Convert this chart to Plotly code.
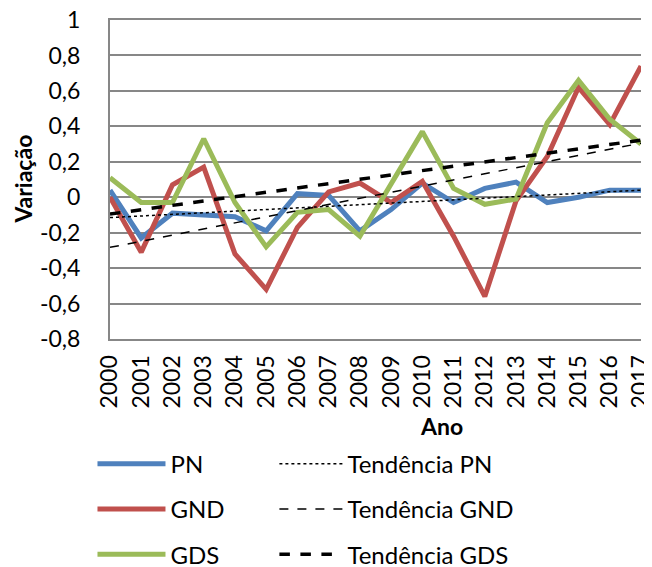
import plotly.graph_objects as go

years = list(range(2000, 2018))
year_labels = [str(y) for y in years]

pn = [0.04, -0.23, -0.09, -0.10, -0.11, -0.19, 0.02, 0.01, -0.19, -0.07,
      0.08, -0.03, 0.05, 0.085, -0.03, 0.0, 0.04, 0.04]
gnd = [0.0, -0.31, 0.07, 0.17, -0.32, -0.52, -0.17, 0.03, 0.08, -0.03,
       0.09, -0.22, -0.56, -0.02, 0.23, 0.62, 0.41, 0.74]
gds = [0.11, -0.03, -0.03, 0.33, -0.03, -0.28, -0.085, -0.07, -0.22, 0.08,
       0.37, 0.05, -0.04, -0.01, 0.42, 0.66, 0.44, 0.30]

trend_years = [2000, 2017]
trend_pn = [-0.115, 0.04]
trend_gnd = [-0.283, 0.305]
trend_gds = [-0.095, 0.322]

y_ticks = [-0.8, -0.6, -0.4, -0.2, 0, 0.2, 0.4, 0.6, 0.8, 1]
y_tick_labels = ["-0,8", "-0,6", "-0,4", "-0,2", "0", "0,2", "0,4", "0,6", "0,8", "1"]

FONT = "Lato"
BLUE = "#4F81BD"
RED = "#C0504D"
GREEN = "#9BBB59"
GRID = "#878787"

fig = go.Figure()

fig.add_trace(go.Scatter(x=years, y=pn, mode="lines", name="PN",
                         line=dict(color=BLUE, width=5), legend="legend",
                         legendgroup="a"))
fig.add_trace(go.Scatter(x=years, y=gnd, mode="lines", name="GND",
                         line=dict(color=RED, width=5), legend="legend",
                         legendgroup="b"))
fig.add_trace(go.Scatter(x=years, y=gds, mode="lines", name="GDS",
                         line=dict(color=GREEN, width=5), legend="legend",
                         legendgroup="c"))
fig.add_trace(go.Scatter(x=trend_years, y=trend_pn, mode="lines", name="Tendência PN",
                         line=dict(color="black", width=1.5, dash="dot"),
                         legend="legend2", legendgroup="d"))
fig.add_trace(go.Scatter(x=trend_years, y=trend_gnd, mode="lines", name="Tendência GND",
                         line=dict(color="black", width=1.5, dash="dash"),
                         legend="legend2", legendgroup="e"))
fig.add_trace(go.Scatter(x=trend_years, y=trend_gds, mode="lines", name="Tendência GDS",
                         line=dict(color="black", width=3.5, dash="dash"),
                         legend="legend2", legendgroup="f"))

legend_common = dict(
    orientation="v", yanchor="bottom", xanchor="left",
    font=dict(family=FONT, size=24, color="black"),
    bgcolor="rgba(0,0,0,0)", tracegroupgap=11,
    borderwidth=0,
)

fig.update_layout(
    width=652, height=567,
    margin=dict(l=102, r=19, t=12, b=236, autoexpand=False),
    paper_bgcolor="white", plot_bgcolor="white",
    font=dict(family=FONT, size=23, color="black"),
    showlegend=True,
    legend=dict(x=-0.033, y=-0.745, itemwidth=68, **legend_common),
    legend2=dict(x=0.3096, y=-0.745, itemwidth=63, **legend_common),
    xaxis=dict(
        range=[2000, 2017], tickvals=years, ticktext=year_labels,
        tickangle=-90, showgrid=False, zeroline=False,
        showline=True, mirror=True, linecolor=GRID, linewidth=2,
        ticks="", ticklabelstandoff=5, automargin=False,
        ticklabeloverflow="allow",
        tickfont=dict(family=FONT, size=23, color="black"),
    ),
    yaxis=dict(
        range=[-0.8, 1], tickvals=y_ticks, ticktext=y_tick_labels,
        showgrid=True, gridcolor=GRID, gridwidth=2, zeroline=False,
        showline=True, linecolor=GRID, linewidth=2,
        ticks="", ticklabelstandoff=23, automargin=False,
        ticklabeloverflow="allow",
        tickfont=dict(family=FONT, size=23, color="black"),
    ),
    annotations=[
        dict(text="<b>Ano</b>", x=0.625, y=-0.273, xref="paper", yref="paper",
             showarrow=False, font=dict(family=FONT, size=23, color="black"),
             xanchor="center", yanchor="middle"),
        dict(text="<b>Variação</b>", x=-0.1655, y=0.5, xref="paper", yref="paper",
             showarrow=False, textangle=-90,
             font=dict(family=FONT, size=23, color="black"),
             xanchor="center", yanchor="middle"),
    ],
)

fig.write_html("out.html")
